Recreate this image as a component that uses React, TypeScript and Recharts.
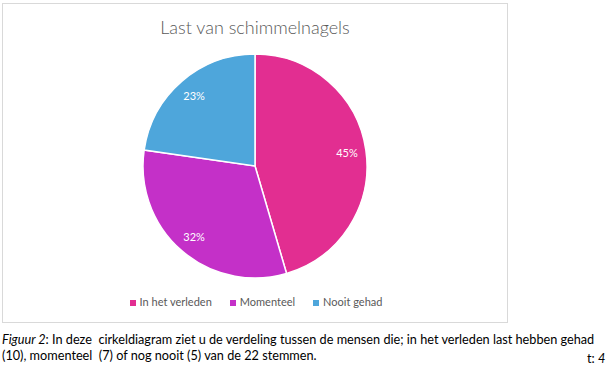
import React from 'react';
import { PieChart, Pie, Cell, Legend } from 'recharts';

const categories = ['In het verleden', 'Momenteel', 'Nooit gehad'];
const votes = [10, 7, 5];
const colors = ['#E22E91', '#C430C8', '#4EA6DB'];

const data = categories.map((name, i) => ({ name, value: votes[i] }));
const total = votes.reduce((s, v) => s + v, 0);

const RADIAN = Math.PI / 180;

const renderLabel = (props: any) => {
  const { cx, cy, midAngle, outerRadius, value } = props;
  const r = outerRadius * 0.83;
  const x = cx + r * Math.cos(-midAngle * RADIAN);
  const y = cy + r * Math.sin(-midAngle * RADIAN);
  return (
    <text x={x} y={y} fill="#ffffff" fontSize={11} fontFamily="Lato, sans-serif"
      textAnchor="middle" dominantBaseline="central">
      {`${Math.round((value / total) * 100)}%`}
    </text>
  );
};

export default function App() {
  return (
    <div style={{ position: 'absolute', left: 0, top: 0, width: 607, height: 368, background: '#fff', overflow: 'hidden' }}>
      <div style={{ position: 'absolute', left: 2, top: 3, width: 504, height: 318, border: '1px solid #D9D9D9' }} />
      <div style={{
        position: 'absolute', left: 2, top: 16, width: 506, textAlign: 'center',
        fontFamily: 'Lato, sans-serif', fontWeight: 300, fontSize: 18, color: '#595959',
      }}>
        Last van schimmelnagels
      </div>
      <div style={{ position: 'absolute', left: 0, top: 0 }}>
        <PieChart width={510} height={325} margin={{ top: 0, right: 0, bottom: 0, left: 0 }}>
          <Pie
            data={data}
            dataKey="value"
            nameKey="name"
            cx={255}
            cy={166}
            outerRadius={112}
            startAngle={90}
            endAngle={-270}
            stroke="#ffffff"
            strokeWidth={1.5}
            label={renderLabel}
            labelLine={false}
            isAnimationActive={false}
          >
            {data.map((_, i) => (
              <Cell key={i} fill={colors[i]} />
            ))}
          </Pie>
          <Legend
            iconType="square"
            iconSize={6}
            wrapperStyle={{ top: 295, left: 10, width: 510, fontFamily: 'Lato, sans-serif', fontSize: 11 }}
            formatter={(name: string) => (
              <span style={{ color: '#595959', marginRight: 8 }}>{name}</span>
            )}
          />
        </PieChart>
      </div>
      <div style={{
        position: 'absolute', left: 2, top: 331, width: 605, whiteSpace: 'nowrap',
        fontFamily: 'Lato, sans-serif', fontSize: 12.7, lineHeight: '16px', color: '#000',
      }}>
        <i>Figuur 2</i>: In deze&nbsp; cirkeldiagram ziet u de verdeling tussen de mensen die; in het verleden last hebben gehad
        <br />
        (10), momenteel&nbsp; (7) of nog nooit (5) van de 22 stemmen.
      </div>
      <div style={{
        position: 'absolute', left: 587, top: 350, fontFamily: 'Lato, sans-serif', fontSize: 12.7, color: '#000',
      }}>
        t: <i>4</i>
      </div>
    </div>
  );
}
